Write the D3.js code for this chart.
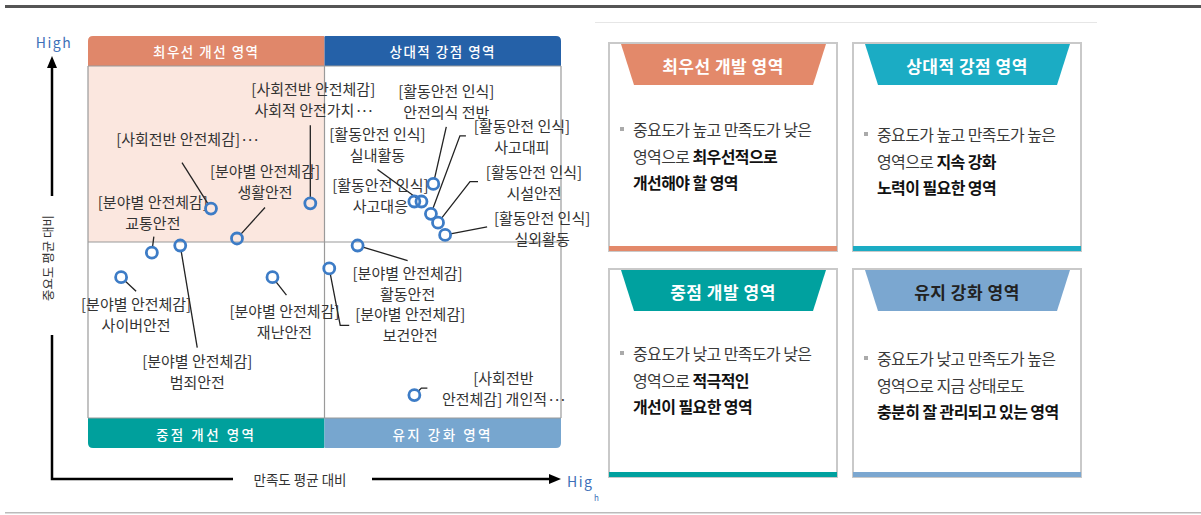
<!DOCTYPE html>
<html>
<head>
<meta charset="utf-8">
<script src="https://cdn.jsdelivr.net/npm/d3@7"></script>
<style>
  body { margin: 0; background: #fff; }
  svg { display: block; font-family: "Noto Sans CJK KR", "Noto Sans", sans-serif; }
</style>
</head>
<body>
<div id="chart"></div>
<script>
// data: importance vs satisfaction, relative to mean
const groups = ["[사회전반 안전체감]", "[사회전반 안전체감]", "[분야별 안전체감]", "[분야별 안전체감]",
  "[분야별 안전체감]", "[분야별 안전체감]", "[분야별 안전체감]", "[분야별 안전체감]",
  "[분야별 안전체감]", "[사회전반", "[활동안전 인식]", "[활동안전 인식]",
  "[활동안전 인식]", "[활동안전 인식]", "[활동안전 인식]", "[활동안전 인식]"];
const items = ["", "사회적 안전가치···", "생활안전", "교통안전",
  "범죄안전", "사이버안전", "재난안전", "활동안전",
  "보건안전", "안전체감] 개인적···", "안전의식 전반", "실내활동",
  "사고대응", "사고대피", "시설안전", "실외활동"];
const satisfaction = [-0.48, -0.06, -0.37, -0.73, -0.61, -0.86, -0.22, 0.14,
  0.02, 0.38, 0.46, 0.41, 0.38, 0.45, 0.48, 0.51];
const importance = [0.19, 0.22, 0.02, -0.06, -0.02, -0.20, -0.20, -0.02,
  -0.15, -0.87, 0.33, 0.23, 0.23, 0.16, 0.11, 0.04];

const quadrantNames = ["최우선 개선 영역", "상대적 강점 영역", "중점 개선 영역", "유지 강화 영역"];
const panelTitles = ["최우선 개발 영역", "상대적 강점 영역", "중점 개발 영역", "유지 강화 영역"];
const panelLines = [
  [[["중요도가 높고 만족도가 낮은", false]], [["영역으로 ", false], ["최우선적으로", true]], [["개선해야 할 영역", true]]],
  [[["중요도가 높고 만족도가 높은", false]], [["영역으로 ", false], ["지속 강화", true]], [["노력이 필요한 영역", true]]],
  [[["중요도가 낮고 만족도가 낮은", false]], [["영역으로 ", false], ["적극적인", true]], [["개선이 필요한 영역", true]]],
  [[["중요도가 낮고 만족도가 높은", false]], [["영역으로 지금 상태로도", false]], [["충분히 잘 관리되고 있는 영역", true]]]
];

// label placement (offsets from each point, px)
const labelOffset = [[-24, -71], [3, -115], [28, -68], [1, -52], [17, 114], [15, 26], [12, 33], [50, 26],
  [81, 45], [89, -18], [13, -94], [-44, -69], [-34, -18], [91, -89], [96, -52], [97, -18]];
const leaders = [[[-29, -46]], [[0, -78]], [[28, -31]], [[2, -16]], [[17, 102]], [[15, 14]], [[14, 18]], [[50, 15]],
  [[20, 57], [11, 57]], [[13, -7], [7, -7]], [[13, -57]], [[-44, -32]], null, [[35, -78], [29, -78]], [[40, -41], [32, -41]], [[42, -8]]];

const W = 1201, H = 515;
const svg = d3.select("#chart").append("svg").attr("width", W).attr("height", H);

// frame lines
svg.append("rect").attr("x", 5).attr("y", 5).attr("width", W - 5).attr("height", 3).attr("fill", "#555");
svg.append("rect").attr("x", 5).attr("y", 512).attr("width", W - 5).attr("height", 1.5).attr("fill", "#bbb");
svg.append("line").attr("x1", 595).attr("x2", 1097).attr("y1", 22.5).attr("y2", 22.5).attr("stroke", "#e6e6e6");

const plotL = 88, plotR = 561, plotT = 66, plotB = 418;
const x = d3.scaleLinear().domain([-1, 1]).range([plotL, plotR]);
const y = d3.scaleLinear().domain([-1, 1]).range([plotB, plotT]);
const mx = x(0), my = y(0);

// quadrant background
svg.append("rect").attr("x", plotL).attr("y", plotT).attr("width", mx - plotL).attr("height", my - plotT).attr("fill", "#fbe7df");

function roundTop(x0, y0, w, h, rl, rr) {
  return `M${x0},${y0 + h} L${x0},${y0 + rl} Q${x0},${y0} ${x0 + rl},${y0} L${x0 + w - rr},${y0} Q${x0 + w},${y0} ${x0 + w},${y0 + rr} L${x0 + w},${y0 + h} Z`;
}
function roundBottom(x0, y0, w, h, rl, rr) {
  return `M${x0},${y0} L${x0 + w},${y0} L${x0 + w},${y0 + h - rr} Q${x0 + w},${y0 + h} ${x0 + w - rr},${y0 + h} L${x0 + rl},${y0 + h} Q${x0},${y0 + h} ${x0},${y0 + h - rl} Z`;
}
const qColors = ["#e0876a", "#2561a8", "#00a09c", "#77a6cf"];
svg.append("path").attr("d", roundTop(plotL, 36, mx - plotL, 30, 5, 1)).attr("fill", qColors[0]);
svg.append("path").attr("d", roundTop(mx, 36, plotR - mx, 30, 1, 5)).attr("fill", qColors[1]);
svg.append("path").attr("d", roundBottom(plotL, plotB, mx - plotL, 30, 5, 1)).attr("fill", qColors[2]);
svg.append("path").attr("d", roundBottom(mx, plotB, plotR - mx, 30, 1, 5)).attr("fill", qColors[3]);
[[(plotL + mx) / 2, 51], [(mx + plotR) / 2, 51], [(plotL + mx) / 2, 434], [(mx + plotR) / 2, 434]].forEach((p, i) => {
  svg.append("text").attr("x", p[0]).attr("y", p[1]).attr("text-anchor", "middle").attr("dominant-baseline", "central")
    .attr("fill", "#fff").attr("font-size", 13.5).attr("font-weight", 500).attr("letter-spacing", i < 2 ? 1.5 : 2.5).text(quadrantNames[i]);
});

// grid / borders
const g = svg.append("g").attr("stroke", "#9a9a9a").attr("stroke-width", 1.2);
g.append("line").attr("x1", plotL).attr("x2", plotL).attr("y1", plotT).attr("y2", plotB);
g.append("line").attr("x1", plotR).attr("x2", plotR).attr("y1", plotT).attr("y2", plotB);
g.append("line").attr("x1", mx).attr("x2", mx).attr("y1", plotT).attr("y2", plotB);
g.append("line").attr("x1", plotL).attr("x2", plotR).attr("y1", my).attr("y2", my);
g.append("line").attr("x1", plotL).attr("x2", plotR).attr("y1", plotT).attr("y2", plotT);
g.append("line").attr("x1", plotL).attr("x2", plotR).attr("y1", plotB).attr("y2", plotB);

// axes arrows
const ax = svg.append("g");
ax.append("line").attr("x1", 52).attr("x2", 52).attr("y1", 196).attr("y2", 64).attr("stroke", "#000").attr("stroke-width", 2.5);
ax.append("path").attr("d", "M52,56 L47,68 L57,68 Z").attr("fill", "#000");
ax.append("path").attr("d", "M52,335 L52,479 L233,479").attr("fill", "none").attr("stroke", "#000").attr("stroke-width", 2.5);
ax.append("line").attr("x1", 372).attr("x2", 552).attr("y1", 479).attr("y2", 479).attr("stroke", "#000").attr("stroke-width", 2.5);
ax.append("path").attr("d", "M561,479 L549,474 L549,484 Z").attr("fill", "#000");
ax.append("text").attr("x", 54).attr("y", 42).attr("text-anchor", "middle").attr("dominant-baseline", "central")
  .attr("fill", "#3d70b8").attr("font-size", 14).attr("letter-spacing", 1.5).text("High");
ax.append("text").attr("x", 567).attr("y", 481).attr("dominant-baseline", "central")
  .attr("fill", "#3d70b8").attr("font-size", 14).attr("letter-spacing", 1.5).text("Hig");
ax.append("text").attr("x", 594).attr("y", 497).attr("dominant-baseline", "central")
  .attr("fill", "#3d70b8").attr("font-size", 8).text("h");
ax.append("text").attr("x", 300).attr("y", 479).attr("text-anchor", "middle").attr("dominant-baseline", "central")
  .attr("fill", "#333").attr("font-size", 13.5).text("만족도 평균 대비");
ax.append("text").attr("transform", "translate(47,258) rotate(-90)").attr("text-anchor", "middle").attr("dominant-baseline", "central")
  .attr("fill", "#333").attr("font-size", 12.5).text("중요도 평균 대비");

// points
const pts = satisfaction.map((s, i) => ({ i, px: x(s), py: y(importance[i]) }));
const R = 5.5;
const lead = svg.append("g").attr("fill", "none").attr("stroke", "#222").attr("stroke-width", 1.3);
pts.forEach(p => {
  const l = leaders[p.i];
  if (!l) return;
  const path = l.map(o => [p.px + o[0], p.py + o[1]]);
  const last = path[path.length - 1];
  const dx = p.px - last[0], dy = p.py - last[1], d = Math.hypot(dx, dy);
  path.push([p.px - dx / d * R, p.py - dy / d * R]);
  lead.append("path").attr("d", d3.line()(path));
});

// text with a tight ellipsis
function addLine(t, str, xPos, dy) {
  const ts = t.append("tspan").attr("x", xPos);
  if (dy) ts.attr("dy", dy);
  const parts = str.split("···");
  ts.text(parts[0]);
  if (parts.length > 1) t.append("tspan").attr("letter-spacing", -2.5).text("···");
}
const lab = svg.append("g").attr("fill", "#333").attr("font-size", 15).attr("text-anchor", "middle");
pts.forEach(p => {
  const o = labelOffset[p.i];
  const t = lab.append("text").attr("x", p.px + o[0]).attr("y", p.py + o[1]).attr("dominant-baseline", "central");
  addLine(t, groups[p.i] + (items[p.i] ? "" : "···"), p.px + o[0], 0);
  if (items[p.i]) addLine(t, items[p.i], p.px + o[0], 21);
});

svg.append("g").selectAll("circle").data(pts).join("circle")
  .attr("cx", d => d.px).attr("cy", d => d.py).attr("r", R)
  .attr("fill", "none").attr("stroke", "#3d7cc6").attr("stroke-width", 2.8);

// right side panels
const pColors = ["#e3896a", "#1bacc4", "#00a19f", "#7ba7d0"];
const pTitleColor = ["#fff", "#fff", "#fff", "#222"];
const pX = [609, 853, 609, 853], pY = [43, 43, 269, 269];
const pW = 228, pH = 208;
panelTitles.forEach((title, i) => {
  const gp = svg.append("g").attr("transform", `translate(${pX[i]},${pY[i]})`);
  gp.append("rect").attr("x", 0).attr("y", 0).attr("width", pW).attr("height", pH)
    .attr("fill", "#fff").attr("stroke", "#c9c9c9").attr("stroke-width", 2);
  gp.append("rect").attr("x", 0).attr("y", pH - 5).attr("width", pW).attr("height", 5).attr("fill", pColors[i]);
  gp.append("path").attr("d", `M12,1 L${pW - 11},1 L${pW - 24},42 L25,42 Z`).attr("fill", pColors[i]);
  gp.append("text").attr("x", pW / 2).attr("y", 22).attr("text-anchor", "middle").attr("dominant-baseline", "central")
    .attr("fill", pTitleColor[i]).attr("font-size", 17).attr("font-weight", 700).attr("letter-spacing", 0.5).text(title);
  const ty = [86, 91, 84, 89][i];
  gp.append("rect").attr("x", 11).attr("y", ty - 2).attr("width", 4).attr("height", 4).attr("fill", "#aaa");
  panelLines[i].forEach((line, k) => {
    const t = gp.append("text").attr("x", 24).attr("y", ty + k * 26.5).attr("dominant-baseline", "central")
      .attr("font-size", 16).attr("letter-spacing", -0.6);
    line.forEach(seg => t.append("tspan").attr("fill", seg[1] ? "#111" : "#3a3a3a")
      .attr("font-weight", seg[1] ? 700 : 400).text(seg[0]));
  });
});
</script>
</body>
</html>
